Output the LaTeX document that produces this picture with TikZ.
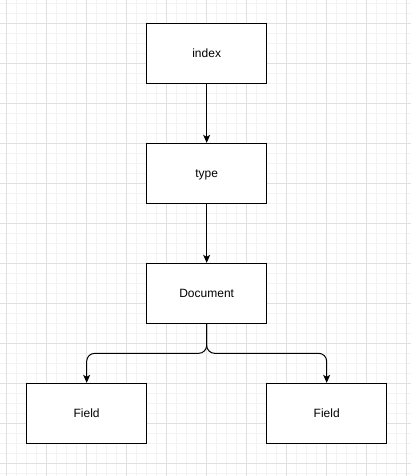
\documentclass[tikz,border=0pt]{standalone}
\usepackage{fontspec}
\setmainfont{Liberation Sans}
\usetikzlibrary{arrows.meta}
\definecolor{gridmajor}{HTML}{E0E0E0}
\definecolor{gridminor}{HTML}{F3F3F3}
\tikzset{
  box/.style={draw=black, line width=1pt, fill=white, minimum width=120pt, minimum height=60pt, inner sep=0pt, text height=8.5pt, text depth=1.1pt, font=\fontsize{12pt}{14pt}\selectfont},
  conn/.style={draw=black, line width=1pt, -{Stealth[length=8pt,width=7pt,inset=2pt]}},
}
\begin{document}
\begin{tikzpicture}[x=1pt,y=-1pt]
\useasboundingbox (0,0) rectangle (411,476);
\fill[white] (0,0) rectangle (411,476);
% minor grid
\foreach \i in {0,...,40} {
  \draw[gridminor, line width=0.8pt] ({6.67+10*\i},0) -- ({6.67+10*\i},476);
}
\foreach \j in {0,...,47} {
  \draw[gridminor, line width=0.8pt] (0,{3.33+10*\j}) -- (411,{3.33+10*\j});
}
% major grid
\foreach \i in {0,...,10} {
  \draw[gridmajor, line width=0.8pt] ({6.67+40*\i},0) -- ({6.67+40*\i},476);
}
\foreach \j in {0,...,11} {
  \draw[gridmajor, line width=0.8pt] (0,{23.33+40*\j}) -- (411,{23.33+40*\j});
}
\node[box] (index) at (206.67,53.33) {index};
\node[box] (type) at (206.67,173.33) {type};
\node[box] (doc) at (206.67,293.33) {Document};
\node[box] (f1) at (86.67,413.33) {Field};
\node[box] (f2) at (326.67,413.33) {Field};
\coordinate (j) at (206.67,353.33);
\draw[conn] (index.south) -- (type.north);
\draw[conn] (type.south) -- (doc.north);
\draw[conn, rounded corners=8pt] (doc.south) -- (j) -| (f1.north);
\draw[conn, rounded corners=8pt] (doc.south) -- (j) -| (f2.north);
\end{tikzpicture}
\end{document}
